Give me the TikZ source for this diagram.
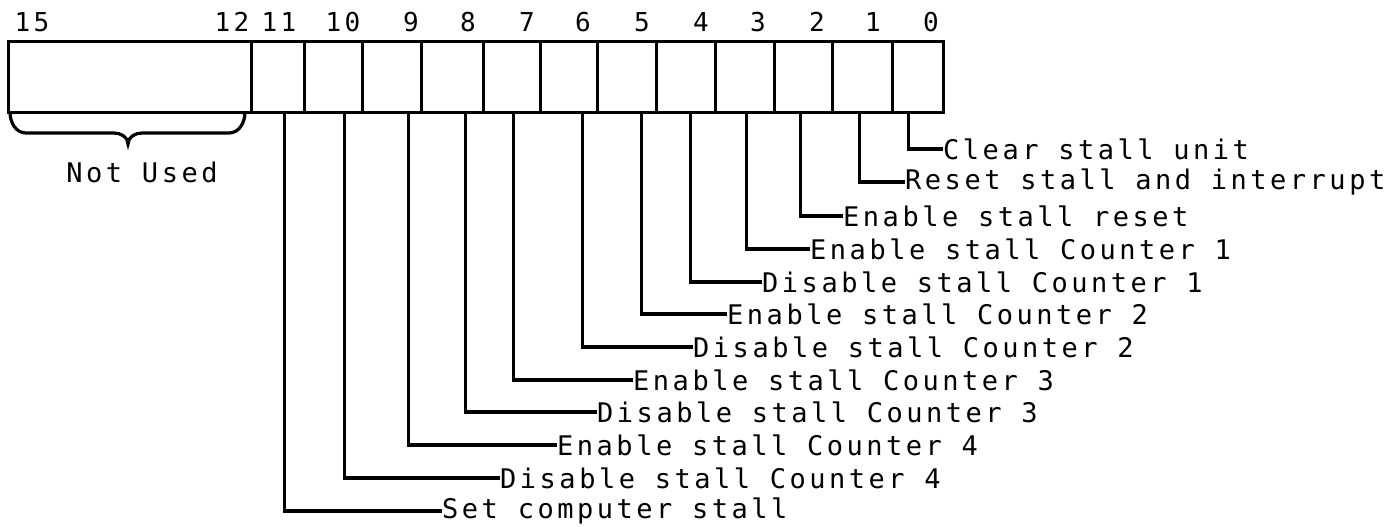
\documentclass[tikz,border=0pt]{standalone}
\usepackage{fontspec}
\newfontfamily\lblfont[LetterSpace=13]{DejaVu Sans Mono}
\begin{document}
\begin{tikzpicture}[x=1pt,y=-1pt,
  reg/.style={draw, line width=3.2pt, inner sep=0pt, minimum height=71pt, anchor=north west},
  lead/.style={line width=3.2pt},
  lbl/.style={anchor=west, inner sep=0pt, font=\lblfont\fontsize{27pt}{31pt}\selectfont},
  bitno/.style={inner sep=0pt, font=\lblfont\fontsize{26pt}{30pt}\selectfont},
  brace/.style={line width=3.2pt}]
\useasboundingbox (0,0) rectangle (1397,527);
% register fields
\node[reg, minimum width=243pt] (nu) at (7,40) {};
\foreach \n/\a/\b in {11/250/303,10/303/361,9/361/420,8/420/482,7/482/539,6/539/596,5/596/655,4/655/714,3/714/773,2/773/831,1/831/891,0/891/942}{
  \pgfmathsetmacro{\w}{\b-\a}
  \node[reg, minimum width=\w pt] (b\n) at (\a,40) {};
}
% bit numbers
\foreach \n/\x in {15/32,12/232,11/279,10/343,9/411,8/468,7/527,6/583,5/642,4/701,3/758,2/817,1/873,0/931}{
  \node[bitno] (d\n) at (\x,22) {\n};
}
% brace and Not Used
\draw[brace] (10,112) to[out=-90,in=180] (26,133) -- (114,133) to[out=0,in=90] (128,144) to[out=90,in=180] (142,133) -- (229,133) to[out=0,in=-90] (245,112);
\node[inner sep=0pt, font=\lblfont\fontsize{27pt}{31pt}\selectfont] (nut) at (142,172) {Not Used};
% labels
\node[lbl] (l0) at (943,149) {Clear stall unit};
\node[lbl] (l1) at (905,182) {Reset stall and interrupt};
\node[lbl] (l2) at (843,216) {Enable stall reset};
\node[lbl] (l3) at (810,249) {Enable stall Counter 1};
\node[lbl] (l4) at (762,282) {Disable stall Counter 1};
\node[lbl] (l5) at (727,314) {Enable stall Counter 2};
\node[lbl] (l6) at (693,347) {Disable stall Counter 2};
\node[lbl] (l7) at (633,380) {Enable stall Counter 3};
\node[lbl] (l8) at (597,412) {Disable stall Counter 3};
\node[lbl] (l9) at (557,445) {Enable stall Counter 4};
\node[lbl] (l10) at (500,478) {Disable stall Counter 4};
\node[lbl] (l11) at (442,511) {Set computer stall};
% leads
\foreach \n/\dx in {11/6.5,10/11,9/16.5,8/13,7/1.5,6/13.5,5/14.5,4/4.5,3/1.5,2/-3,1/-3,0/-9.5}{
  \draw[lead] ([xshift=\dx pt]b\n.south) |- (l\n.west);
}
\end{tikzpicture}
\end{document}
